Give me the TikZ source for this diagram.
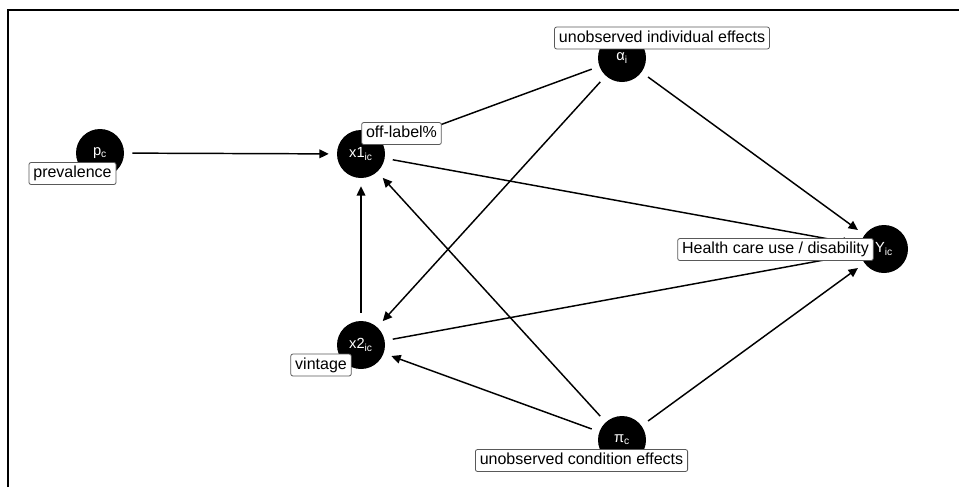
\documentclass[tikz,border=0pt]{standalone}
\usepackage{fontspec}
\setmainfont{Liberation Sans}
\usetikzlibrary{arrows.meta}
\usetikzlibrary{positioning}

\begin{document}
\begin{tikzpicture}[x=0.75pt,y=-0.75pt,
	var/.style={circle,fill=black,text=white,minimum size=36pt,inner sep=0pt,font=\fontsize{11}{13}\selectfont},
	tag/.style={draw=black!65,fill=white,rounded corners=1.5pt,line width=0.6pt,inner xsep=3.3pt,inner ysep=2.3pt,text height=9pt,text depth=2.8pt,font=\fontsize{12}{14}\selectfont},
	link/.style={line width=1.1pt,shorten >=6pt,shorten <=6pt,-{Triangle[length=7pt,width=6.5pt]}}]
				    \useasboundingbox (0,0) rectangle (959,487);
				    \draw[line width=1.6pt] (8,487) -- (8,10) -- (959,10);
				    % Place nodes
				    \node[var] (pc) at (100,153) {p\textsubscript{c}};
				    \node[var] (x1) at (361,154) {x1\textsubscript{ic}};
				    \node[var] (x2) at (361,345) {x2\textsubscript{ic}};
				    \node[var] (al) at (622,58) {α\textsubscript{i}};
				    \node[var] (y) at (884,249) {Y\textsubscript{ic}};
				    \node[var] (pi) at (622,440) {π\textsubscript{c}};
				    % Draw arrows
				    \draw[link] (pc) -- (x1);
				    \draw[link] (al) -- (x1);
				    \draw[link] (al) -- (x2);
				    \draw[link] (al) -- (y);
				    \draw[link] (x1) -- (y);
				    \draw[link] (x2) -- (x1);
				    \draw[link] (x2) -- (y);
				    \draw[link] (pi) -- (x1);
				    \draw[link] (pi) -- (x2);
				    \draw[link] (pi) -- (y);
				    % Place labels
				    \node[tag] (prev) at (72.5,173.5) {prevalence};
				    \node[tag] (off) at (401.5,133.5) {off-label\%};
				    \node[tag] (indiv) at (662,38) {unobserved individual effects};
				    \node[tag] (use) at (775.5,249.5) {Health care use / disability};
				    \node[tag] (vint) at (321,365) {vintage};
				    \node[tag] (cond) at (581.5,460.5) {unobserved condition effects};
				
				\end{tikzpicture}
\end{document}
